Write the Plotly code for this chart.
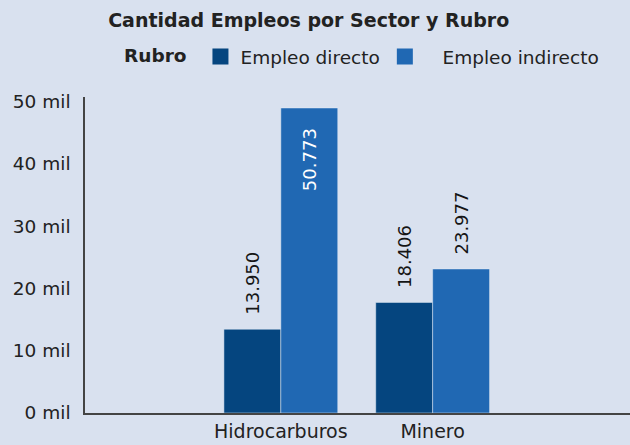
import plotly.graph_objects as go

categories = ["Hidrocarburos", "Minero"]
empleo_directo = [13950, 18406]
empleo_indirecto = [50773, 23977]
series_names = ["Empleo directo", "Empleo indirecto"]
tick_labels = ["0 mil", "10 mil", "20 mil", "30 mil", "40 mil", "50 mil"]

# the reference axis ticks sit slightly off the nominal values
tick_step = 10366
tick_vals = [i * tick_step for i in range(len(tick_labels))]

NB = "\u00a0"

def fmt(v):
    return f"{v:,}".replace(",", ".")

font_family = "'DejaVu Sans', sans-serif"
col_dir = "#05457f"
col_ind = "#2068b3"
bg = "#d9e1ef"

fig = go.Figure()
fig.add_trace(go.Bar(
    name=series_names[0], x=categories, y=empleo_directo, marker_color=col_dir,
    text=[NB * 2 + fmt(v) for v in empleo_directo], textposition="outside", textangle=-90,
    textfont=dict(size=18, color="#151515"), cliponaxis=False, showlegend=False,
    constraintext="none",
))
fig.add_trace(go.Bar(
    name=series_names[1], x=categories, y=empleo_indirecto, marker_color=col_ind,
    text=[fmt(empleo_indirecto[0]) + NB * 3, NB * 2 + fmt(empleo_indirecto[1])],
    textposition=["inside", "outside"], textangle=-90,
    insidetextanchor="end", constraintext="none",
    insidetextfont=dict(size=18, color="white"),
    outsidetextfont=dict(size=18, color="#151515"), cliponaxis=False, showlegend=False,
))
# legend proxies with larger square swatches
legend_labels = [series_names[0], NB * 3 + series_names[1]]
for name, col in zip(legend_labels, [col_dir, col_ind]):
    fig.add_trace(go.Scatter(x=[None], y=[None], mode="markers", name=name,
                             marker=dict(symbol="square", size=16, color=col)))

fig.update_layout(
    width=630, height=445,
    paper_bgcolor=bg, plot_bgcolor=bg,
    font=dict(family=font_family, size=18.5, color="#222222"),
    margin=dict(l=85, r=0, t=97, b=32),
    barmode="group", bargap=0.25, bargroupgap=0,
    title=dict(text="<b>Cantidad Empleos por Sector y Rubro</b>", x=0.49, xanchor="center",
               y=0.955, yanchor="middle", font=dict(size=19, color="#222222")),
    legend=dict(orientation="h", x=0.068, xanchor="left", y=1.127, yanchor="middle",
                title=dict(text="<b>Rubro</b> ", font=dict(size=18.5)),
                font=dict(size=18.5), bgcolor="rgba(0,0,0,0)", itemsizing="trace",
                tracegroupgap=0),
    showlegend=True,
)
fig.update_xaxes(range=[-1.29, 2.3], showline=True, linecolor="#444444", linewidth=1.5,
                 showgrid=False, ticks="", tickfont=dict(size=19))
fig.update_yaxes(range=[0, 52600], showline=True, linecolor="#444444", linewidth=1.5,
                 showgrid=False, zeroline=False, tickvals=tick_vals, ticktext=tick_labels,
                 ticks="outside", ticklen=9, tickcolor="rgba(0,0,0,0)",
                 tickfont=dict(size=18.5))

fig.write_html("out.html")
